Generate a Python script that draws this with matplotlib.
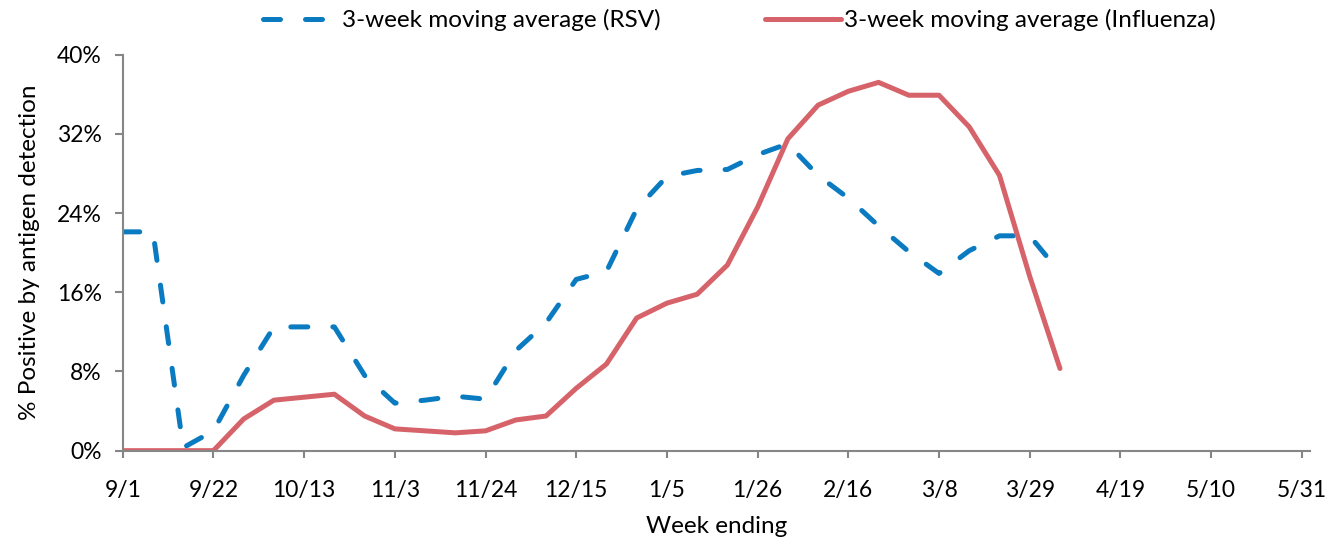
import numpy as np
import matplotlib
matplotlib.use("Agg")
import matplotlib.pyplot as plt

plt.rcParams['font.family'] = ['Lato', 'DejaVu Sans']

# week index (0 = week ending 9/1), tick labels every 3 weeks
tick_labels = ['9/1', '9/22', '10/13', '11/3', '11/24', '12/15', '1/5',
               '1/26', '2/16', '3/8', '3/29', '4/19', '5/10', '5/31']
weeks = list(range(32))

# 3-week moving average, % positive
rsv = [22.1, 22.1, 0.3, 2.0, 7.6, 12.5, 12.5, 12.5, 7.6, 4.8, 5.1, 5.5,
       5.2, 10.1, 12.9, 17.3, 18.1, 24.4, 27.7, 28.3, 28.4, 29.9, 31.0, 27.8,
       25.5, 22.7, 20.1, 17.9, 20.2, 21.7, 21.7, 18.0]
flu = [0.0, 0.0, 0.0, 0.0, 3.2, 5.1, 5.4, 5.7, 3.5, 2.2, 2.0, 1.8,
       2.0, 3.1, 3.5, 6.3, 8.75, 13.4, 14.9, 15.8, 18.75, 24.6, 31.5, 34.9,
       36.3, 37.2, 35.9, 35.9, 32.7, 27.8, 17.6, 8.3]

blue = '#0A7BC1'
red = '#D6636A'
grey = '#868686'

fig = plt.figure(figsize=(13.4, 5.41), dpi=100)
ax = fig.add_axes([0.0916, 0.167, 0.886, 0.732])

ax.plot(weeks, rsv, color=blue, lw=3.6, linestyle=(0, (3.4, 5.0)),
        dash_capstyle='round', solid_joinstyle='round',
        label='3-week moving average (RSV)')
ax.plot(weeks, flu, color=red, lw=3.6, solid_capstyle='round',
        solid_joinstyle='round', label='3-week moving average (Influenza)')

ax.set_xlim(0, 39.27)
ax.set_ylim(0, 40)
ax.set_xticks(range(0, 40, 3))
ax.set_xticklabels(tick_labels)
ax.set_yticks(range(0, 41, 8))
ax.set_yticklabels([f'{v}%' for v in range(0, 41, 8)])

for s in ['top', 'right']:
    ax.spines[s].set_visible(False)
for s in ['left', 'bottom']:
    ax.spines[s].set_color(grey)
    ax.spines[s].set_linewidth(1.5)
ax.tick_params(axis='both', colors=grey, labelcolor='black', labelsize=16.5,
               width=1.5)
ax.tick_params(axis='y', length=6, pad=9)
ax.tick_params(axis='x', length=5, pad=16)

ax.set_xlabel('Week ending', fontsize=17.5, labelpad=11)
ax.set_ylabel('% Positive by antigen detection', fontsize=17.5, labelpad=12)

fig.legend(loc='center', bbox_to_anchor=(0.552, 0.963), ncol=2,
           frameon=False, fontsize=17.5, handlelength=3.1, handletextpad=0.15,
           columnspacing=4.3)

fig.savefig('out.png', dpi=100)
